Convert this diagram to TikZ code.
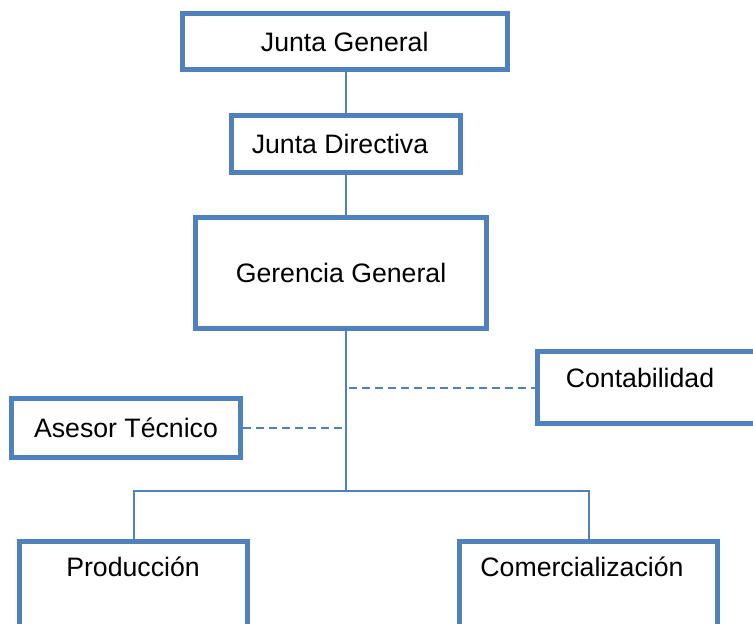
\documentclass[tikz,border=0pt]{standalone}
\usepackage{fontspec}
\setmainfont{Liberation Sans}
\usepackage{tikz}
\definecolor{bordo}{HTML}{4F81BD}

\tikzset{
  casella/.style={draw=bordo, line width=3.75pt, fill=white, inner sep=0pt,
    font=\fontsize{20}{24}\selectfont},
  testo/.style={inner sep=0pt, font=\fontsize{20}{24}\selectfont},
  linea/.style={draw=bordo, line width=1.5pt},
  tratteggio/.style={draw=bordo, line width=1.5pt, dash pattern=on 6pt off 3.75pt}
}

\begin{document}
\begin{tikzpicture}[x=0.75pt, y=-0.75pt]
    \clip (0,0) rectangle (753,624);
    \fill[white] (0,0) rectangle (753,624);
    % caselle
    \node[casella, minimum width=244.1pt, minimum height=42pt] (JG) at (344.75,41.5) {Junta General};
    \node[casella, minimum width=171.75pt, minimum height=42.75pt] (JD) at (346,144) {Junta Directiva\hspace*{9pt}};
    \node[casella, minimum width=218.25pt, minimum height=83.25pt] (GG) at (341,273) {Gerencia General};
    \node[casella, minimum width=181.9pt, minimum height=54pt] (CO) at (658.75,387.5) {};
    \node[casella, minimum width=171.75pt, minimum height=44.25pt] (AT) at (126,428) {Asesor T\'ecnico};
    \node[casella, anchor=north, minimum width=171pt, minimum height=97.5pt] (PR) at (133.5,538.5) {};
    \node[casella, anchor=north, minimum width=193.5pt, minimum height=97.5pt] (CM) at (588.5,538.5) {};
    \node[testo] (COt) at (640,378) {Contabilidad};
    \node[testo] (PRt) at (133,567) {Producci\'on};
    \node[testo] (CMt) at (582,567) {Comercializaci\'on};
    % punti di raccordo
    \coordinate (T) at (346,491);
    \coordinate (C) at (349,387.5);
    % collegamenti
    \draw[linea] (JG.south -| JD) -- (JD.north);
    \draw[linea] (JD.south) -- (JD.south |- GG.north);
    \draw[linea] (GG.south -| T) -- (T);
    \draw[linea] (PR.north) |- (T) -| (CM.north);
    \draw[tratteggio] (C) -- (CO.west);
    \draw[tratteggio] (AT.east) -- (AT.east -| T);
\end{tikzpicture}
\end{document}
